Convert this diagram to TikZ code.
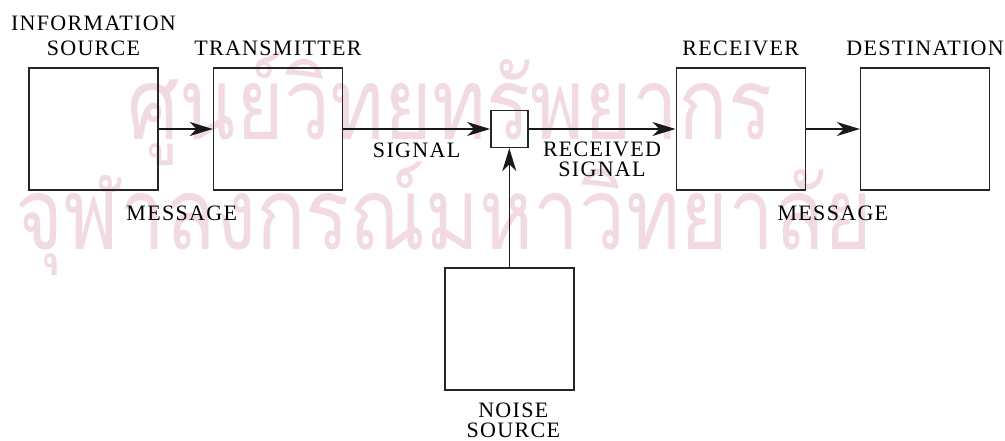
\documentclass[tikz,border=0pt]{standalone}
\usepackage{fontspec}
\setmainfont{Liberation Serif}[LetterSpace=6]
\newfontfamily\thaifont[Script=Thai]{Loma}
\usepackage{tikz}
\usetikzlibrary{arrows.meta,positioning,backgrounds}
\definecolor{markpink}{RGB}{242,218,229}

\begin{document}
\begin{tikzpicture}[
  x=1pt, y=1pt,
  font=\fontsize{22}{25}\selectfont,
  node distance=54pt and 54pt,
  block/.style={
    draw=black!85,
    line width=1.4pt,
    minimum width=129pt,
    minimum height=122pt,
    inner sep=0pt
  },
  mixer/.style={block, minimum width=37pt, minimum height=37pt},
  tag/.style={align=center, inner sep=0pt},
  snug/.style={tag, font=\fontsize{22}{20}\selectfont},
  watermark/.style={anchor=base, text=markpink, inner sep=0pt, xscale=0.82,
    font=\thaifont\fontsize{100}{100}\selectfont},
  arrow/.style={-{Stealth[length=23pt,width=14pt,inset=7pt]}, line width=1.4pt, draw=black!90}
]
\useasboundingbox (0,0) rectangle (1005,-441);

\node[block] (source) at (93.5,-129) {};
\node[block, right=of source] (transmitter) {};
\node[mixer, right=147pt of transmitter] (channel) {};
\node[block, right=147pt of channel] (receiver) {};
\node[block, right=of receiver] (destination) {};
\node[block, below=119pt of channel] (noise) {};

\node[tag, above=11pt of source] {INFORMATION\\SOURCE};
\node[tag, above=11pt of transmitter] {TRANSMITTER};
\node[tag, above=11pt of receiver] {RECEIVER};
\node[tag, above=11pt of destination] {DESTINATION};
\node[snug, below=12pt of noise, xshift=4pt] {NOISE\\SOURCE};

\draw[arrow] (source) -- node[tag, below=76pt, xshift=-4pt] {MESSAGE} (transmitter);
\draw[arrow] (transmitter) -- node[tag, below=13pt] {SIGNAL} (channel);
\draw[arrow] (channel) -- node[snug, below=12pt] {RECEIVED\\SIGNAL} (receiver);
\draw[arrow] (receiver) -- node[tag, below=76pt] {MESSAGE} (destination);
\draw[arrow] (noise) -- (channel);

% watermark
\begin{scope}[on background layer]
\node[watermark] (markone) at (450,-140) {ศูนย์วิทยทรัพยากร};
\node[watermark] (marktwo) at (444,-250) {จุฬาลงกรณ์มหาวิทยาลัย};
\end{scope}
\end{tikzpicture}
\end{document}
